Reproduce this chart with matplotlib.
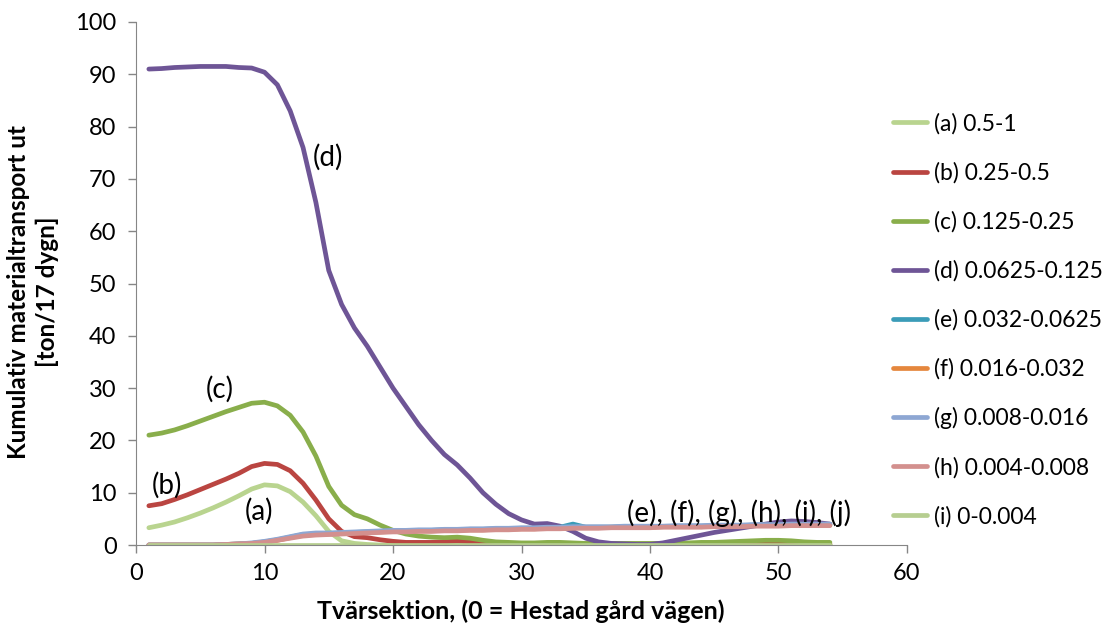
import matplotlib.pyplot as plt

plt.rcParams['font.family'] = ['Lato', 'DejaVu Sans']

sektion = list(range(1, 55))

a_vals = [3.3, 3.8, 4.4, 5.2, 6.1, 7.1, 8.2, 9.4, 10.7, 11.5,
          11.3, 10.2, 8.2, 5.6, 2.6, 0.8, 0.3, 0.1, 0, 0,
          0, 0, 0, 0, 0, 0, 0, 0, 0, 0,
          0, 0, 0, 0, 0, 0, 0, 0, 0, 0,
          0, 0, 0, 0, 0, 0, 0, 0, 0, 0,
          0, 0, 0, 0]
b_vals = [7.5, 7.9, 8.7, 9.6, 10.6, 11.6, 12.6, 13.7, 15.0, 15.6,
          15.4, 14.2, 11.8, 8.6, 5.0, 2.6, 1.6, 1.4, 1.0, 0.7,
          0.5, 0.5, 0.5, 0.6, 0.8, 0.6, 0.3, 0.2, 0.2, 0.2,
          0.2, 0.2, 0.2, 0.2, 0.2, 0.2, 0.2, 0.2, 0.2, 0.2,
          0.2, 0.2, 0.2, 0.2, 0.2, 0.2, 0.2, 0.2, 0.2, 0.2,
          0.2, 0.2, 0.2, 0.2]
c_vals = [21.0, 21.4, 22.0, 22.8, 23.7, 24.6, 25.5, 26.3, 27.1, 27.3,
          26.6, 24.8, 21.6, 17.0, 11.2, 7.6, 5.8, 5.0, 3.8, 2.8,
          2.1, 1.7, 1.5, 1.4, 1.5, 1.3, 0.9, 0.6, 0.5, 0.4,
          0.4, 0.5, 0.5, 0.4, 0.3, 0.3, 0.3, 0.3, 0.3, 0.3,
          0.3, 0.4, 0.4, 0.5, 0.5, 0.6, 0.7, 0.8, 0.9, 0.9,
          0.8, 0.6, 0.5, 0.5]
d_vals = [91.0, 91.1, 91.3, 91.4, 91.5, 91.5, 91.5, 91.3, 91.2, 90.4,
          88.0, 83.0, 76.0, 65.5, 52.5, 46.0, 41.5, 38.0, 34.0, 30.0,
          26.5, 23.0, 20.0, 17.3, 15.3, 12.8, 10.0, 7.8, 6.0, 4.8,
          4.0, 4.1, 3.6, 2.6, 1.3, 0.6, 0.3, 0.2, 0.1, 0.1,
          0.4, 0.9, 1.4, 1.9, 2.4, 2.8, 3.2, 3.6, 4.0, 4.4,
          4.6, 4.5, 4.3, 4.0]
e_vals = [0, 0, 0, 0, 0, 0, 0.1, 0.2, 0.3, 0.6,
          1.0, 1.5, 2.0, 2.1, 2.2, 2.3, 2.4, 2.5, 2.6, 2.7,
          2.7, 2.8, 2.8, 2.9, 2.9, 3.0, 3.0, 3.1, 3.1, 3.2,
          3.2, 3.3, 3.4, 4.0, 3.4, 3.4, 3.4, 3.5, 3.5, 3.5,
          3.5, 3.6, 3.6, 3.6, 3.7, 3.7, 3.7, 3.8, 3.8, 3.8,
          3.9, 3.9, 3.9, 3.9]
f_vals = [0, 0, 0, 0, 0, 0, 0.1, 0.2, 0.3, 0.5,
          0.9, 1.4, 1.9, 2.0, 2.1, 2.2, 2.3, 2.4, 2.5, 2.6,
          2.6, 2.7, 2.7, 2.8, 2.8, 2.9, 2.9, 3.0, 3.0, 3.1,
          3.1, 3.2, 3.2, 3.3, 3.3, 3.3, 3.4, 3.4, 3.4, 3.4,
          3.5, 3.5, 3.5, 3.5, 3.6, 3.6, 3.6, 3.7, 3.7, 3.7,
          3.8, 3.8, 3.8, 3.8]
g_vals = [0, 0, 0, 0, 0, 0, 0.1, 0.2, 0.4, 0.7,
          1.1, 1.6, 2.1, 2.3, 2.3, 2.4, 2.5, 2.6, 2.7, 2.8,
          2.8, 2.9, 2.9, 3.0, 3.0, 3.1, 3.1, 3.2, 3.2, 3.3,
          3.3, 3.4, 3.4, 3.5, 3.5, 3.5, 3.5, 3.6, 3.6, 3.6,
          3.6, 3.7, 3.7, 3.7, 3.8, 3.8, 3.8, 3.9, 3.9, 3.9,
          4.0, 4.0, 4.0, 4.0]
h_vals = [0, 0, 0, 0, 0, 0, 0.1, 0.2, 0.3, 0.5,
          0.9, 1.3, 1.7, 1.9, 2.0, 2.1, 2.2, 2.3, 2.4, 2.5,
          2.5, 2.6, 2.6, 2.7, 2.7, 2.8, 2.8, 2.9, 2.9, 3.0,
          3.0, 3.1, 3.1, 3.2, 3.2, 3.2, 3.3, 3.3, 3.3, 3.3,
          3.4, 3.4, 3.4, 3.4, 3.5, 3.5, 3.5, 3.6, 3.6, 3.6,
          3.7, 3.7, 3.7, 3.7]
i_vals = [0] * 54

series = [
    ("(a) 0.5-1", a_vals, "#B9D48F"),
    ("(b) 0.25-0.5", b_vals, "#BA4541"),
    ("(c) 0.125-0.25", c_vals, "#89AE4B"),
    ("(d) 0.0625-0.125", d_vals, "#6E5596"),
    ("(e) 0.032-0.0625", e_vals, "#3B9CB8"),
    ("(f) 0.016-0.032", f_vals, "#E5873D"),
    ("(g) 0.008-0.016", g_vals, "#8EA7D3"),
    ("(h) 0.004-0.008", h_vals, "#D3908E"),
    ("(i) 0-0.004", i_vals, "#B6CE90"),
]

fig = plt.figure(figsize=(11.14, 6.29), dpi=100)
ax = fig.add_axes([136/1114, 1-545/629, (907-136)/1114, (545-22)/629])

for label, vals, col in series:
    ax.plot(sektion, vals, color=col, lw=3.4, label=label, solid_capstyle='round')

ax.set_xlim(0, 60)
ax.set_ylim(0, 100)
ax.set_xticks(range(0, 61, 10))
ax.set_yticks(range(0, 101, 10))
ax.tick_params(labelsize=17, colors='black', length=6, width=1, color='#868686')
ax.tick_params(axis='y', pad=8)
ax.tick_params(axis='x', pad=7)
for s in ['top', 'right']:
    ax.spines[s].set_visible(False)
for s in ['left', 'bottom']:
    ax.spines[s].set_color('#868686')

ax.text(14.9, 74.2, "(d)", fontsize=20, ha='center', va='center')
ax.text(6.5, 29.8, "(c)", fontsize=20, ha='center', va='center')
ax.text(2.4, 11.5, "(b)", fontsize=20, ha='center', va='center')
ax.text(9.6, 6.5, "(a)", fontsize=20, ha='center', va='center')
ax.text(46.9, 6.1, "(e), (f), (g), (h), (i), (j)", fontsize=20, ha='center', va='center')

fig.text(521/1114, 1-611/629, "Tvärsektion, (0 = Hestad gård vägen)",
         fontsize=18, fontweight='bold', ha='center', va='center')
fig.text(33/1114, 1-292/629, "Kumulativ materialtransport ut\n[ton/17 dygn]",
         fontsize=17.5, fontweight='bold', ha='center', va='center',
         rotation=90, multialignment='center', linespacing=1.25)

fig.legend(loc='upper left', bbox_to_anchor=(893/1114, 1-113/629), frameon=False,
           fontsize=16.5, labelspacing=1.2, handlelength=1.5, handletextpad=0.28,
           borderpad=0, borderaxespad=0)

fig.savefig('out.png', dpi=100)
